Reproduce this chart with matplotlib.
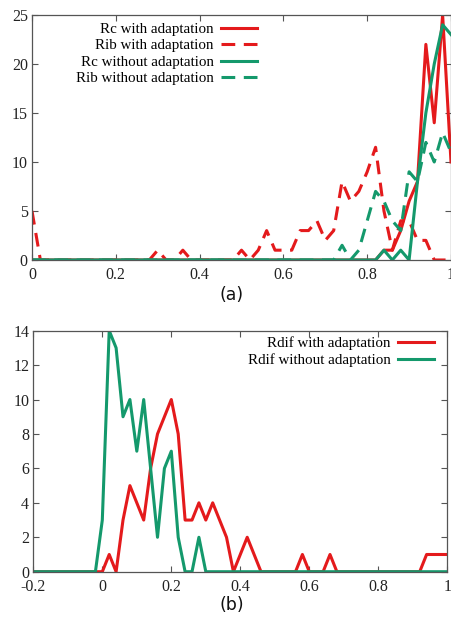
import numpy as np
import matplotlib
matplotlib.use("Agg")
import matplotlib.pyplot as plt

plt.rcParams['font.family'] = ['Liberation Serif', 'DejaVu Serif']

RED = '#e41a1c'
GREEN = '#14996c'

# (a) bins 0..1 step 0.02
xa = np.round(np.arange(51) * 0.02, 2)
rc_with = [0] * 42 + [1, 1, 3, 6, 8, 22, 14, 25, 10]
rib_with = ([5] + [0] * 14 + [1, 0, 0, 1, 0, 0, 0, 0, 0, 0, 1, 0, 1, 3, 1, 1, 1, 3, 3, 4, 2, 3,
            8, 6, 7, 9, 11.5, 5, 1, 4, 4, 2, 2, 0, 0, 0])
rc_without = [0] * 42 + [1, 0, 1, 0, 8, 15, 20, 24, 23]
rib_without = [0] * 37 + [1.5, 0, 1, 4, 7, 6, 4, 3, 9, 8, 12, 10, 13, 11]

# (b) bins -0.2..1 step 0.02
xb = np.round(-0.2 + np.arange(61) * 0.02, 2)
rdif_with = ([0] * 11 + [1, 0, 3, 5, 4, 3, 6, 8, 9, 10, 8, 3, 3, 4, 3, 4, 3, 2, 0, 1, 2, 1, 0]
             + [0] * 5 + [1, 0, 0, 0, 1, 0] + [0] * 12 + [1, 1, 1, 1])
rdif_without = [0] * 10 + [3, 14, 13, 9, 10, 7, 10, 6, 2, 6, 7, 2, 0, 0, 2, 0] + [0] * 35

fig = plt.figure(figsize=(4.52, 6.19), dpi=100)
ax1 = fig.add_axes([0.0708, 0.580, 0.927, 0.3958])
ax2 = fig.add_axes([0.0737, 0.0764, 0.9159, 0.3894])

lw = 2.2
dash = (4.5, 2.8)

ax1.plot(xa, rc_with, color=RED, lw=lw, label='Rc with adaptation')
ax1.plot(xa, rib_with, color=RED, lw=lw, dashes=dash, label='Rib with adaptation')
ax1.plot(xa, rc_without, color=GREEN, lw=lw, label='Rc without adaptation')
ax1.plot(xa, rib_without, color=GREEN, lw=lw, dashes=dash, label='Rib without adaptation')
ax1.set_xlim(0, 1)
ax1.set_ylim(0, 25)
ax1.set_xticks([0, 0.2, 0.4, 0.6, 0.8, 1])
ax1.set_xticklabels(['0', '0.2', '0.4', '0.6', '0.8', '1'])
ax1.set_yticks([0, 5, 10, 15, 20, 25])
ax1.legend(loc='upper right', bbox_to_anchor=(0.537, 0.97), frameon=False,
           markerfirst=False, handlelength=2.4, handletextpad=0.5,
           labelspacing=0.2, borderpad=0, borderaxespad=0, fontsize=10.8)

ax2.plot(xb, rdif_with, color=RED, lw=lw, label='Rdif with adaptation')
ax2.plot(xb, rdif_without, color=GREEN, lw=lw, label='Rdif without adaptation')
ax2.set_xlim(-0.2, 1)
ax2.set_ylim(0, 14)
ax2.set_xticks([-0.2, 0, 0.2, 0.4, 0.6, 0.8, 1])
ax2.set_xticklabels(['-0.2', '0', '0.2', '0.4', '0.6', '0.8', '1'])
ax2.set_yticks([0, 2, 4, 6, 8, 10, 12, 14])
ax2.legend(loc='upper right', bbox_to_anchor=(0.969, 0.975), frameon=False,
           markerfirst=False, handlelength=2.4, handletextpad=0.5,
           labelspacing=0.2, borderpad=0, borderaxespad=0, fontsize=10.8)

for ax in (ax1, ax2):
    for s in ax.spines.values():
        s.set_color('#555555')
        s.set_linewidth(0.9)
    ax.tick_params(direction='in', length=4, width=0.8, color='#555555',
                   top=True, right=True, labelsize=11.5, labelcolor='#222222')
    ax.tick_params(axis='x', pad=5)
    ax.tick_params(axis='y', pad=3)

fig.text(0.513, 1 - 295 / 619, '(a)', ha='center', va='center', fontsize=12.5,
         family='DejaVu Sans', color='#111111')
fig.text(0.513, 1 - 605 / 619, '(b)', ha='center', va='center', fontsize=12.5,
         family='DejaVu Sans', color='#111111')

fig.savefig('out.png', dpi=100)
